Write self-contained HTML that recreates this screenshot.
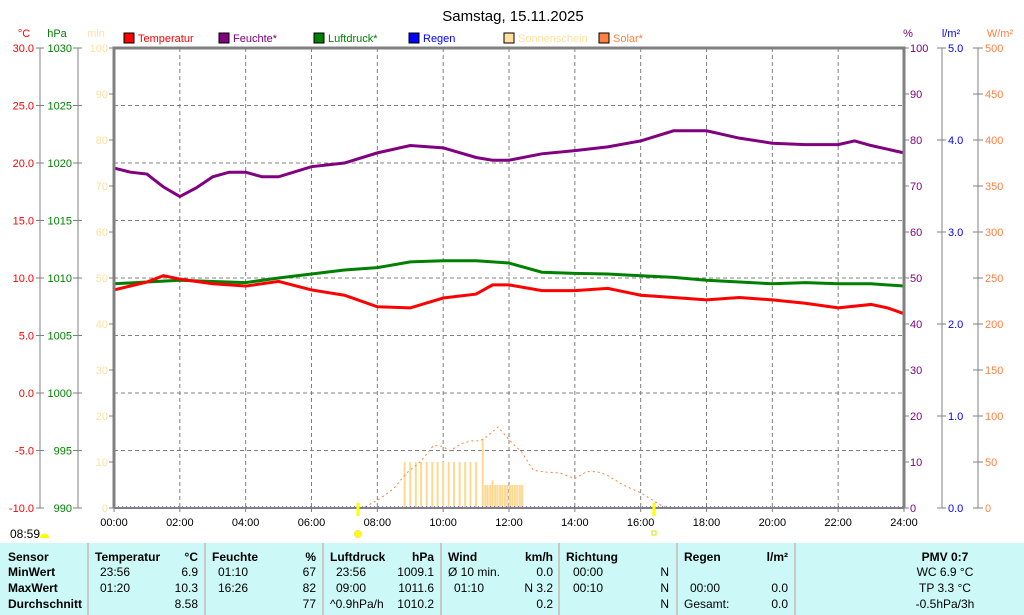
<!DOCTYPE html>
<html><head><meta charset="utf-8"><style>
body{margin:0;background:#fff;width:1024px;height:615px;overflow:hidden;font-family:"Liberation Sans",sans-serif}
svg{display:block}
</style></head><body>
<svg id="c" width="1024" height="615" xmlns="http://www.w3.org/2000/svg" font-family="Liberation Sans, sans-serif">
<text x="513" y="21" font-size="15" text-anchor="middle">Samstag, 15.11.2025</text>
<g id="legend" font-size="11"></g>
<g id="grid"></g>
<g id="axes" font-size="11"></g>
<g id="marks"></g>
<rect x="0" y="543" width="1024" height="72" fill="#ccf8f8"/>
<g id="table" font-size="12"></g>
</svg>
<script>
const hours=[0,1,1.5,2,3,4,5,6,7,8,9,10,11,11.5,12,13,14,15,16,17,18,19,20,21,22,23,23.5,24];
const tempVals=[8.96,9.65,10.2,9.9,9.5,9.3,9.7,8.96,8.5,7.5,7.4,8.26,8.6,9.4,9.4,8.9,8.9,9.1,8.5,8.3,8.1,8.3,8.1,7.8,7.4,7.7,7.4,6.9];
const pressHours=[0,1,2,3,4,5,6,7,8,9,10,11,12,13,14,15,16,17,18,19,20,21,22,23,24];
const pressVals=[1009.5,1009.65,1009.8,1009.7,1009.6,1010.0,1010.35,1010.7,1010.9,1011.4,1011.5,1011.5,1011.3,1010.5,1010.4,1010.35,1010.2,1010.05,1009.8,1009.65,1009.5,1009.6,1009.5,1009.5,1009.3];
const humHours=[0,0.5,1,1.5,2,2.5,3,3.5,4,4.5,5,6,7,8,9,10,11,11.5,12,13,14,15,16,17,18,19,20,21,22,22.5,23,24];
const humVals=[73.9,73,72.6,69.8,67.7,69.6,72,73,73,72,72,74.2,75,77.2,78.8,78.3,76.2,75.6,75.6,77,77.7,78.5,79.8,82,82,80.4,79.3,79,79,79.8,78.8,77.2];
const solarHours=[7.62,8.03,8.49,8.89,9.3,9.6,9.7,10.0,10.2,10.56,10.87,11.12,11.32,11.67,12.03,12.38,12.74,13.14,13.55,14.0,14.36,14.66,14.97,15.47,16.03,16.43,16.69,17];
const solarVals=[1.4,8.7,21,38,50,63,68,67,62,70,73,73,77.5,88,73,61,41,39,38,32,39.5,39.5,36,25,16,7,1.4,0.8];
const sunHours=[8.83,9,9.17,9.33,9.5,9.67,9.83,10,10.17,10.33,10.5,10.67,10.83,11,11.2,11.28,11.35,11.43,11.5,11.58,11.65,11.73,11.8,11.88,11.95,12.03,12.1,12.18,12.25,12.33,12.4];
const sunMins=[10,10,10,10,10,10,10,10,10,10,10,10,10,10,15,5,5,5,6,5,5,5,5,5,5,5,5,5,5,5,5];
const xTicks=["00:00","02:00","04:00","06:00","08:00","10:00","12:00","14:00","16:00","18:00","20:00","22:00","24:00"];
const tempTicks=["-10.0","-5.0","0.0","5.0","10.0","15.0","20.0","25.0","30.0"];
const pressTicks=["990","995","1000","1005","1010","1015","1020","1025","1030"];
const pctTicks=["0","10","20","30","40","50","60","70","80","90","100"];
const rainTicks=["0.0","1.0","2.0","3.0","4.0","5.0"];
const wTicks=["0","50","100","150","200","250","300","350","400","450","500"];

const NS="http://www.w3.org/2000/svg";
const X0=114,X1=904,Y0=48,Y1=508;
const xs=h=>X0+(X1-X0)*h/24;
const yT=t=>Y1-(t+10)/40*(Y1-Y0);
const yP=p=>Y1-(p-990)/40*(Y1-Y0);
const yH=v=>Y1-v/100*(Y1-Y0);
const yW=w=>Y1-w/500*(Y1-Y0);
function mk(parent,tag,attrs,text){const e=document.createElementNS(NS,tag);for(const k in attrs)e.setAttribute(k,attrs[k]);if(text!==undefined)e.textContent=text;document.getElementById(parent).appendChild(e);return e;}

// grid
for(let i=1;i<12;i++){const e=mk('grid','line',{x1:xs(i*2),x2:xs(i*2),y1:Y0,y2:Y1,stroke:'#808080','stroke-dasharray':'4,3'});

}
for(let i=1;i<8;i++){const y=Y1-i*(Y1-Y0)/8;const e=mk('grid','line',{x1:X0,x2:X1,y1:y,y2:y,stroke:'#808080','stroke-dasharray':'4,3'});

}

// left axes
mk('axes','line',{x1:40,x2:40,y1:Y0,y2:Y1,stroke:'#808080'});
mk('axes','line',{x1:78,x2:78,y1:Y0,y2:Y1,stroke:'#808080'});
tempTicks.forEach((t,i)=>{const y=Y1-i*(Y1-Y0)/8;mk('axes','line',{x1:36,x2:44,y1:y,y2:y,stroke:'#808080'});
const e=mk('axes','text',{x:34,y:y+4,'text-anchor':'end',fill:'#ff0000'},t);

});
pressTicks.forEach((t,i)=>{const y=Y1-i*(Y1-Y0)/8;mk('axes','line',{x1:73,x2:82,y1:y,y2:y,stroke:'#808080'});
const e=mk('axes','text',{x:72,y:y+4,'text-anchor':'end',fill:'#008000'},t);

});
pctTicks.forEach((t,i)=>{const y=Y1-i*(Y1-Y0)/10;mk('axes','line',{x1:109,x2:114,y1:y,y2:y,stroke:'#808080'});
const e=mk('axes','text',{x:108,y:y+4,'text-anchor':'end',fill:'#ffe0a0'},t*1);


mk('axes','line',{x1:904,x2:909,y1:y,y2:y,stroke:'#808080'});
const f=mk('axes','text',{x:910,y:y+4,fill:'#800080'},t);


mk('axes','line',{x1:973,x2:983,y1:y,y2:y,stroke:'#808080'});
const g=mk('axes','text',{x:985,y:y+4,fill:'#ff8040'},wTicks[i]);

});
mk('axes','line',{x1:942,x2:942,y1:Y0,y2:Y1,stroke:'#808080'});
mk('axes','line',{x1:978,x2:978,y1:Y0,y2:Y1,stroke:'#808080'});
rainTicks.forEach((t,i)=>{const y=Y1-i*(Y1-Y0)/5;mk('axes','line',{x1:937,x2:946,y1:y,y2:y,stroke:'#808080'});
const e=mk('axes','text',{x:948,y:y+4,fill:'#0000ff'},t);

});
[['°C',24,'#ff0000'],['hPa',57,'#008000'],['min',96,'#ffe0a0'],['%',908,'#800080'],['l/m²',951,'#0000ff'],['W/m²',1000,'#ff8040']].forEach(a=>{
const e=mk('axes','text',{x:a[1],y:37,'text-anchor':'middle',fill:a[2]},a[0]);

});
xTicks.forEach((t,i)=>{const x=xs(i*2);mk('axes','line',{x1:x,x2:x,y1:Y1,y2:Y1+4,stroke:'#808080'});
const e=mk('axes','text',{x:x,y:526,'text-anchor':'middle',fill:'#000'},t);

});

// legend
[['Temperatur','#ff0000'],['Feuchte*','#800080'],['Luftdruck*','#008000'],['Regen','#0000ff'],['Sonnenschein','#ffe0a0'],['Solar*','#ff8040']].forEach((l,i)=>{
const x=124+i*95;
const r=mk('legend','rect',{x:x,y:33,width:10,height:10,fill:l[1],stroke:'#000'});


const t=mk('legend','text',{x:x+14,y:42,fill:l[1]},l[0]);

});

// sunshine bars
sunHours.forEach((h,i)=>{const y=yH(sunMins[i]);const e=mk('marks','rect',{x:xs(h)-1,y:y,width:2,height:Y1-y,fill:'#ffd890'});

});
// solar
let sp=solarHours.map((h,i)=>xs(h)+','+yW(solarVals[i])).join(' ');
let e=mk('marks','polyline',{points:sp,fill:'none',stroke:'#ff8040','stroke-width':1,'stroke-dasharray':'2,3'});


// rain baseline
e=mk('marks','line',{x1:X0,x2:X1,y1:Y1-1,y2:Y1-1,stroke:'#0000ff','stroke-dasharray':'1,3'});


// pressure
e=mk('marks','polyline',{points:pressHours.map((h,i)=>xs(h)+','+yP(pressVals[i])).join(' '),fill:'none',stroke:'#008000','stroke-width':3});


// temp
e=mk('marks','polyline',{points:hours.map((h,i)=>xs(h)+','+yT(tempVals[i])).join(' '),fill:'none',stroke:'#ff0000','stroke-width':3});


// humidity
e=mk('marks','polyline',{points:humHours.map((h,i)=>xs(h)+','+yH(humVals[i])).join(' '),fill:'none',stroke:'#800080','stroke-width':3});


// frame
e=mk('marks','path',{d:`M${X0} ${Y1}V${Y0}H${X1}V${Y1}`,fill:'none',stroke:'#808080','stroke-width':3});


mk('marks','line',{x1:X0,x2:X1,y1:Y1,y2:Y1,stroke:'#808080','stroke-width':2});
// sunrise/sunset
[358,654].forEach(x=>{const m=mk('marks','line',{x1:x,x2:x,y1:503,y2:516,stroke:'#ffff00','stroke-width':3});

});
e=mk('marks','circle',{cx:358,cy:534,r:3.5,fill:'#ffff00',stroke:'#ffe060'});


e=mk('marks','rect',{x:652,y:531,width:4,height:4,fill:'none',stroke:'#e0e000'});


e=mk('marks','text',{x:10,y:538,'font-size':12},'08:59');


e=mk('marks','path',{d:'M40 538 a4 4 0 0 1 9 0 z',fill:'#ffff00'});



// table
[88,205,323,441,559,677,795].forEach(x=>{const s=mk('table','rect',{x:x-1,y:543,width:2,height:72,fill:'#c8c8c8'});

});
const rows=[561,576,592,608];
function cell(x,r,t,anchor,bold){const c=mk('table','text',{x:x,y:rows[r],'text-anchor':anchor||'start','font-weight':bold?'bold':'normal'},t);

}
cell(8,0,'Sensor','start',1);cell(8,1,'MinWert','start',1);cell(8,2,'MaxWert','start',1);cell(8,3,'Durchschnitt','start',1);
cell(95,0,'Temperatur','start',1);cell(198,0,'°C','end',1);cell(100,1,'23:56');cell(198,1,'6.9','end');cell(100,2,'01:20');cell(198,2,'10.3','end');cell(198,3,'8.58','end');
cell(212,0,'Feuchte','start',1);cell(316,0,'%','end',1);cell(218,1,'01:10');cell(316,1,'67','end');cell(218,2,'16:26');cell(316,2,'82','end');cell(316,3,'77','end');
cell(330,0,'Luftdruck','start',1);cell(434,0,'hPa','end',1);cell(336,1,'23:56');cell(434,1,'1009.1','end');cell(336,2,'09:00');cell(434,2,'1011.6','end');cell(330,3,'^0.9hPa/h');cell(434,3,'1010.2','end');
cell(448,0,'Wind','start',1);cell(553,0,'km/h','end',1);cell(448,1,'Ø 10 min.');cell(553,1,'0.0','end');cell(454,2,'01:10');cell(553,2,'N 3.2','end');cell(553,3,'0.2','end');
cell(566,0,'Richtung','start',1);cell(573,1,'00:00');cell(669,1,'N','end');cell(573,2,'00:10');cell(669,2,'N','end');cell(669,3,'N','end');
cell(684,0,'Regen','start',1);cell(788,0,'l/m²','end',1);cell(690,2,'00:00');cell(788,2,'0.0','end');cell(684,3,'Gesamt:');cell(788,3,'0.0','end');
cell(945,0,'PMV 0:7','middle',1);cell(945,1,'WC 6.9 °C','middle');cell(945,2,'TP 3.3 °C','middle');cell(945,3,'-0.5hPa/3h','middle');
</script>
</body></html>
